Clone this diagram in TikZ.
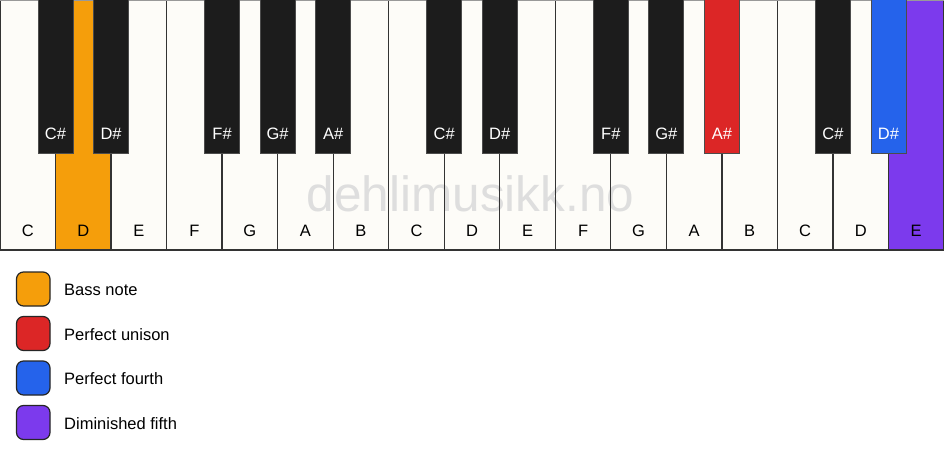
\documentclass[tikz,border=0pt]{standalone}
\usepackage{fontspec}
\setmainfont{Liberation Sans}
\definecolor{wkey}{HTML}{FDFCF8}
\definecolor{bkey}{HTML}{1C1C1C}
\definecolor{bassc}{HTML}{F59E0B}
\definecolor{unisc}{HTML}{DC2626}
\definecolor{fourc}{HTML}{2563EB}
\definecolor{dimc}{HTML}{7C3AED}
\definecolor{edge}{HTML}{333333}
\definecolor{wmark}{HTML}{DEDEDE}
\begin{document}
\begin{tikzpicture}[x=1pt,y=-1pt,
  whitekey/.style={fill=wkey},
  keyedge/.style={draw=edge,line width=1.3pt},
  blackkey/.style={draw=black!70,line width=0.8pt,fill=bkey},
  klabel/.style={font=\fontsize{16.5}{19}\selectfont,anchor=base,inner sep=0pt},
  legbox/.style={draw=black!85,line width=1.2pt,rounded corners=7pt},
  legtext/.style={font=\fontsize{16.5}{19}\selectfont,anchor=base west,inner sep=0pt}]
\useasboundingbox (0,0) rectangle (944,461);
\fill[white] (0,0) rectangle (944,461);
\def\w{55.5294}
% white key fills
\foreach \i in {0,...,16} {
  \fill[wkey] ({\i*\w},0) rectangle ({(\i+1)*\w},250);
}
\fill[bassc] ({1*\w},0) rectangle ({2*\w},250);
\fill[dimc] ({16*\w},0) rectangle ({17*\w},250);
% watermark
\node[font=\fontsize{49.5}{58}\selectfont,text=wmark,anchor=base,inner sep=0pt] (wm) at (470.5,211) {dehlimusikk.no};
% white key borders
\foreach \i in {0,...,16} {
  \draw[keyedge] ({\i*\w},0) rectangle ({(\i+1)*\w},250);
}
\draw[draw=black!40,line width=0.8pt] (0,0.4) -- (944,0.4);
% white labels
\foreach \n [count=\i from 0] in {C,D,E,F,G,A,B,C,D,E,F,G,A,B,C,D,E} {
  \node[klabel] (w\i) at ({(\i+0.5)*\w},236) {\n};
}
% black keys
\foreach \b/\n/\c in {1/C/bkey,2/D/bkey,4/F/bkey,5/G/bkey,6/A/bkey,8/C/bkey,9/D/bkey,11/F/bkey,12/G/bkey,13/A/unisc,15/C/bkey,16/D/fourc} {
  \draw[blackkey,fill=\c] ({\b*\w-17.5},-1) rectangle ({\b*\w+17.5},153);
  \node[klabel,text=white] (b\b) at ({\b*\w},139) {\n\#};
}
% legend
\foreach \c/\t [count=\k from 0] in {bassc/Bass note,unisc/Perfect unison,fourc/Perfect fourth,dimc/Diminished fifth} {
  \draw[legbox,fill=\c] (16.5,{272+\k*44.5}) rectangle (50,{306+\k*44.5});
  \node[legtext] (l\k) at (64,{295.5+\k*44.5}) {\t};
}
\end{tikzpicture}
\end{document}
